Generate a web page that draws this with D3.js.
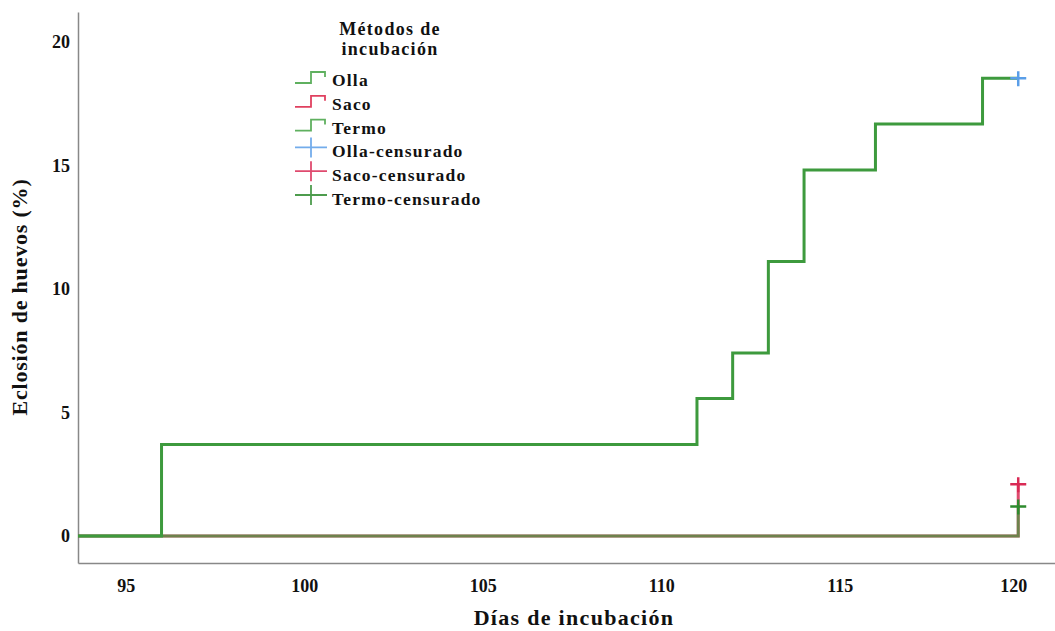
<!DOCTYPE html>
<html><head><meta charset="utf-8">
<script src="https://cdn.jsdelivr.net/npm/d3@7"></script>
<style>
body{margin:0;background:#fff;}
</style></head>
<body><svg id="c" width="1055" height="631"></svg>
<script>
// Data
const xTicks = [95, 100, 105, 110, 115, 120];
const yTicks = [0, 5, 10, 15, 20];
const ollaDays = [96, 111, 112, 113, 114, 116, 119];
const ollaPct  = [3.70, 5.56, 7.41, 11.11, 14.81, 16.67, 18.52];
const sacoDays = [];
const sacoPct  = [];
const termoDays = [];
const termoPct  = [];
const censorDays = [120, 120, 120];
const censorPct  = [18.52, 2.1, 1.2];   // Olla, Saco, Termo
const seriesNames = ["Olla", "Saco", "Termo"];
const legendLabels = ["Olla", "Saco", "Termo", "Olla-censurado", "Saco-censurado", "Termo-censurado"];
const lineColors = ["#3d9a3d", "#d92a55", "#3d9a3d"];
const censorColors = ["#5a9ee8", "#d92a55", "#2e8b2e"];
const legendLineColors = ["#5fb05f", "#e0405f", "#5fb05f"];

const FONT = "'Liberation Serif', 'DejaVu Serif', serif";
const svg = d3.select("#c");
const x = d3.scaleLinear().domain([93.66, 121.03]).range([78, 1055]);
const y = d3.scaleLinear().domain([-1.09, 21.2]).range([563, 12]);

// axes
const xAxis = svg.append("g").attr("transform","translate(0,563)")
  .call(d3.axisBottom(x).tickValues(xTicks).tickSize(0).tickPadding(16).tickFormat(d3.format("d")));
xAxis.attr("font-family", FONT);
xAxis.select(".domain").attr("stroke","#888").attr("stroke-width",1.5);
xAxis.selectAll("text").attr("font-size",18).attr("font-weight","bold").attr("fill","#111");
xAxis.selectAll(".tick").filter(d=>d===120).select("text").attr("dx",-5);
const yAxis = svg.append("g").attr("transform","translate(78,0)")
  .call(d3.axisLeft(y).tickValues(yTicks).tickSize(0).tickPadding(8).tickFormat(d3.format("d")));
yAxis.attr("font-family", FONT);
yAxis.select(".domain").attr("stroke","#888").attr("stroke-width",1.5);
yAxis.selectAll("text").attr("font-size",18).attr("font-weight","bold").attr("fill","#111");

function txt(g){ return g.append("text").attr("font-family",FONT).attr("font-weight","bold").attr("fill","#111"); }
txt(svg).attr("x",574).attr("y",625).attr("text-anchor","middle").attr("font-size",22)
  .attr("letter-spacing",1.3).text("Días de incubación");
txt(svg).attr("transform","translate(27,297) rotate(-90)").attr("text-anchor","middle").attr("font-size",22)
  .attr("letter-spacing",0.8).text("Eclosión de huevos (%)");

// step paths
function stepPts(days, pcts, endDay, endPct){
  const pts = [[x.domain()[0], 0]];
  days.forEach((d,i)=>pts.push([d, pcts[i]]));
  pts.push([endDay, pts[pts.length-1][1]]);
  if(endPct!==undefined) pts.push([endDay, endPct]);
  return pts;
}
const line = d3.line().x(d=>x(d[0])).y(d=>y(d[1])).curve(d3.curveStepAfter);
const plot = svg.append("g");
plot.append("path").datum(stepPts(sacoDays, sacoPct, censorDays[1], censorPct[1]))
  .attr("d", line).attr("fill","none").attr("stroke",lineColors[1]).attr("stroke-width",3).attr("opacity",0.85);
plot.append("path").datum(stepPts(termoDays, termoPct, censorDays[2], censorPct[2]))
  .attr("d", line).attr("fill","none").attr("stroke",lineColors[2]).attr("stroke-width",3).attr("opacity",0.7);
plot.append("path").datum(stepPts(ollaDays, ollaPct, censorDays[0]))
  .attr("d", line).attr("fill","none").attr("stroke",lineColors[0]).attr("stroke-width",3);

// censor crosses
censorDays.forEach((d,i)=>{
  const cx = x(d), cy = y(censorPct[i]);
  plot.append("path").attr("d",`M${cx-8},${cy}H${cx+8}M${cx},${cy-7}V${cy+8}`)
    .attr("stroke",censorColors[i]).attr("stroke-width",2.5).attr("fill","none");
});

// legend
const lg = svg.append("g");
txt(lg).attr("x",390).attr("y",35).attr("text-anchor","middle").attr("font-size",18).attr("letter-spacing",1.3).text("Métodos de");
txt(lg).attr("x",390).attr("y",55).attr("text-anchor","middle").attr("font-size",18).attr("letter-spacing",1.3).text("incubación");
legendLabels.forEach((lab,i)=>{
  const yy = 78 + i*23.8;
  if(i<3){
    lg.append("path").attr("d",`M295,${yy+5}H311V${yy-6}H325V${yy-1}`)
      .attr("fill","none").attr("stroke",legendLineColors[i]).attr("stroke-width",1.8);
  } else {
    lg.append("path").attr("d",`M295,${yy-2}H327M311,${yy-12}V${yy+8}`)
      .attr("fill","none").attr("stroke",censorColors[i-3]).attr("stroke-width",1.8).attr("opacity",0.85);
  }
  txt(lg).attr("x",332).attr("y",yy+8).attr("font-size",17.5).attr("letter-spacing",1.2).text(lab);
});
</script></body></html>
